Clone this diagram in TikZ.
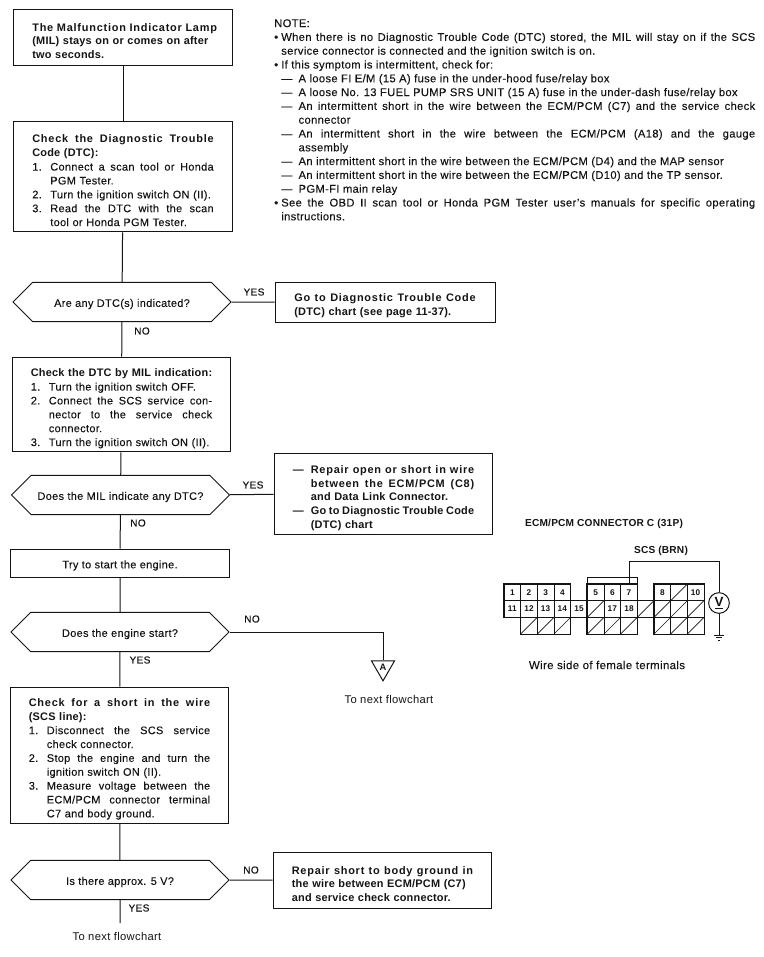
\documentclass[tikz,border=0pt]{standalone}
\usepackage{fontspec}
\setmainfont{Liberation Sans}[LetterSpace=3, FakeBold=0.15, BoldFeatures={LetterSpace=2, FakeBold=0}]
\newfontfamily\wideface{Liberation Sans}[LetterSpace=7, BoldFeatures={LetterSpace=7}]
\newfontfamily\thinface{Liberation Sans}[LetterSpace=3]
\usetikzlibrary{shapes.misc, shapes.geometric}
\definecolor{ink}{gray}{0.08}
\newcommand{\fitbox}[2]{\makebox[#1][s]{\spaceskip=0pt\xspaceskip=0pt\relax #2}}
\newcommand{\widefont}{\wideface\bfseries}
\newcommand{\fullln}[1]{\fitbox{136pt}{#1}}
\newcommand{\stepln}[2]{\makebox[13.5pt][l]{#1}\fitbox{122.5pt}{#2}}
\newcommand{\stepst}[2]{\mbox{\makebox[13.5pt][l]{#1}#2}}
\newcommand{\dotln}[1]{\makebox[5.25pt][l]{•}\fitbox{355.5pt}{#1}}
\newcommand{\dotst}[1]{\makebox[5.25pt][l]{•}#1}
\newcommand{\dashln}[1]{\hspace*{5.25pt}\makebox[13pt][l]{—}\fitbox{342.5pt}{#1}}
\newcommand{\dashst}[1]{\hspace*{5.25pt}\makebox[13pt][l]{—}#1}
\tikzset{
    x=0.75pt, y=-0.75pt,
    every node/.style={text=ink},
    wire/.style={draw=ink, line width=0.75pt},
    flowbox/.style={shape=rectangle, wire, minimum width=164pt, inner sep=0pt, align=center, text height=9pt, text depth=1pt, font=\fontsize{8.2}{10.4}\selectfont},
    stepbox/.style={shape=rectangle, wire, minimum width=164pt, inner sep=0pt, text width=136pt, align=left, font=\fontsize{8.2}{10.4}\selectfont, execute at begin node={\rule{0pt}{12pt}}},
    boldbox/.style={stepbox, font=\bfseries\fontsize{8.2}{10.4}\selectfont},
    query/.style={shape=chamfered rectangle, wire, chamfered rectangle xsep=16.5pt, chamfered rectangle ysep=10pt, minimum width=163.5pt, minimum height=20pt, inner sep=0pt, text height=8.3pt, text depth=1pt, font=\fontsize{8.2}{10.4}\selectfont},
    answer/.style={inner sep=0pt, font=\fontsize{7.6}{10}\selectfont},
    caption/.style={inner sep=0pt, font=\thinface\fontsize{8.4}{10}\selectfont},
    pincell/.style={shape=rectangle, draw=ink, line width=0.5pt, minimum width=12.5pt, minimum height=12.5pt, inner sep=0pt, font=\bfseries\fontsize{6.2}{7}\selectfont},
    pinslash/.style={pincell, path picture={\draw[ink, line width=0.5pt] (path picture bounding box.south west) -- (path picture bounding box.north east);}},
    pinedge/.style={draw=ink, line width=0.75pt}
}
\begin{document}
\begin{tikzpicture}
    \useasboundingbox (0,0) rectangle (764,957);

    \node[boldbox, minimum height=42pt] (B1) at (123,37) {{\widefont\mbox{The Malfunction Indicator Lamp}}\\\mbox{(MIL) stays on or comes on after}\\two seconds.};
    \node[stepbox, minimum height=83pt] (B2) at (123,176.5) {{\widefont\fullln{Check the Diagnostic Trouble}}\\\textbf{Code (DTC):}\\\stepln{1.}{Connect a scan tool or Honda}\\\stepst{}{PGM Tester.}\\\stepst{2.}{Turn the ignition switch ON (II).}\\\stepln{3.}{Read the DTC with the scan}\\\stepst{}{tool or Honda PGM Tester.}};
    \node[query] (D1) at (122,302) {Are any DTC(s) indicated?};
    \node[boldbox, minimum width=165pt, minimum height=30pt] (B3) at (385,302) {{\widefont\fullln{Go to Diagnostic Trouble Code}}\\\mbox{(DTC) chart (see page 11-37).}};
    \node[stepbox, minimum height=71pt] (B4) at (121.5,404.5) {\textbf{\fullln{Check the DTC by MIL indication:}}\\\stepst{1.}{Turn the ignition switch OFF.}\\\stepln{2.}{Connect the SCS service con-}\\\stepln{}{nector to the service check}\\\stepst{}{connector.}\\\stepst{3.}{Turn the ignition switch ON (II).}};
    \node[query] (D2) at (120.5,495) {Does the MIL indicate any DTC?};
    \node[boldbox, minimum height=61pt] (B5) at (383.5,494) {\stepln{—}{\widefont Repair open or short in wire}\\\stepln{}{\widefont between the ECM/PCM (C8)}\\\stepst{}{and Data Link Connector.}\\\stepln{—}{Go to Diagnostic Trouble Code}\\\stepst{}{(DTC) chart}};
    \node[flowbox, minimum height=21pt] (B6) at (120,563) {Try to start the engine.};
    \node[query] (D3) at (120,632) {Does the engine start?};
    \node[stepbox, minimum height=102pt] (B7) at (119.5,755) {{\widefont\fullln{Check for a short in the wire}}\\\textbf{(SCS line):}\\\stepln{1.}{Disconnect the SCS service}\\\stepst{}{check connector.}\\\stepln{2.}{Stop the engine and turn the}\\\stepst{}{ignition switch ON (II).}\\\stepln{3.}{Measure voltage between the}\\\stepln{}{ECM/PCM connector terminal}\\\stepst{}{C7 and body ground.}};
    \node[query] (D4) at (120,880) {Is there approx. 5 V?};
    \node[boldbox, minimum height=42pt] (B8) at (382.5,880) {{\widefont\fullln{Repair short to body ground in}}\\\mbox{the wire between ECM/PCM (C7)}\\\mbox{and service check connector.}};
    \node[shape=regular polygon, regular polygon sides=3, shape border rotate=180, wire, minimum size=20pt, inner sep=0pt, font=\bfseries\fontsize{7}{8}\selectfont] (T) at (383,667.5) {A};

    \coordinate (E1) at (120,923);

    \draw[wire] (B1) -- (B2);
    \draw[wire] (B2) -- (D1);
    \draw[wire] (D1) -- (B3);
    \draw[wire] (D1) -- (B4);
    \draw[wire] (B4) -- (D2);
    \draw[wire] (D2) -- (B5);
    \draw[wire] (D2) -- (B6);
    \draw[wire] (B6) -- (D3);
    \draw[wire] (D3) -| (T.north);
    \draw[wire] (D3) -- (B7);
    \draw[wire] (B7) -- (D4);
    \draw[wire] (D4) -- (B8);
    \draw[wire] (D4) -- (E1);

    \node[answer] (yes1) at (254,292) {YES};
    \node[answer] (no1) at (142,331) {NO};
    \node[answer] (yes2) at (253,485) {YES};
    \node[answer] (no2) at (138,523) {NO};
    \node[answer] (no3) at (252,619) {NO};
    \node[answer] (yes3) at (140,660) {YES};
    \node[answer] (no4) at (251,870) {NO};
    \node[answer] (yes4) at (139,908) {YES};
    \node[caption] (next1) at (389,699) {To next flowchart};
    \node[caption] (next2) at (117,936) {To next flowchart};

    \node[anchor=north west, inner sep=0pt, align=left, font=\fontsize{8.4}{10.35}\selectfont] (N) at (274,19) {NOTE:\\
        \dotln{When there is no Diagnostic Trouble Code (DTC) stored, the MIL will stay on if the SCS}\\
        \hspace*{5.25pt}service connector is connected and the ignition switch is on.\\
        \dotst{If this symptom is intermittent, check for:}\\
        \dashst{A loose FI E/M (15 A) fuse in the under-hood fuse/relay box}\\
        \dashst{A loose No. 13 FUEL PUMP SRS UNIT (15 A) fuse in the under-dash fuse/relay box}\\
        \dashln{An intermittent short in the wire between the ECM/PCM (C7) and the service check}\\
        \hspace*{18.25pt}connector\\
        \dashln{An intermittent short in the wire between the ECM/PCM (A18) and the gauge}\\
        \hspace*{18.25pt}assembly\\
        \dashst{An intermittent short in the wire between the ECM/PCM (D4) and the MAP sensor}\\
        \dashst{An intermittent short in the wire between the ECM/PCM (D10) and the TP sensor.}\\
        \dashst{PGM-FI main relay}\\
        \dotln{See the OBD II scan tool or Honda PGM Tester user's manuals for specific operating}\\
        \hspace*{5.25pt}instructions.};

    \node[inner sep=0pt, font=\bfseries\fontsize{7.6}{10}\selectfont] (P) at (604,524) {ECM/PCM CONNECTOR C (31P)};
    \node[inner sep=0pt, font=\bfseries\fontsize{7.6}{10}\selectfont] (S) at (661,551) {SCS (BRN)};
    \node[inner sep=0pt, font=\fontsize{8.6}{10}\selectfont] (W) at (607,665) {Wire side of female terminals};

    \foreach \cx/\cy/\lab in {512.3/592.3/1, 529/592.3/2, 545.6/592.3/3, 562.3/592.3/4, 595.6/592.3/5, 612.3/592.3/6, 629/592.3/7, 662.3/592.3/8, 695.6/592.3/10, 512.3/609/11, 529/609/12, 545.6/609/13, 562.3/609/14, 579/609/15, 612.3/609/17, 629/609/18}
        \node[pincell] (c\lab) at (\cx,\cy) {\lab};
    \foreach \cx/\cy/\lab in {679/592.3/a, 595.6/609/b, 645.6/609/c, 662.3/609/d, 679/609/e, 695.6/609/f, 529/625.7/g, 545.6/625.7/h, 562.3/625.7/i, 595.6/625.7/j, 612.3/625.7/k, 629/625.7/l, 662.3/625.7/m, 679/625.7/n, 695.6/625.7/o}
        \node[pinslash] (c\lab) at (\cx,\cy) {};

    \node[shape=rectangle, pinedge, minimum width=37.6pt, minimum height=5.2pt, inner sep=0pt] (H) at (612.3,580.5) {};
    \draw[pinedge] (c1.north west) rectangle (c14.south east);
    \draw[pinedge] (cg.north west) rectangle (ci.south east);
    \draw[pinedge] (c5.north west) rectangle (cl.south east);
    \draw[pinedge] (c8.north west) rectangle (co.south east);
    \draw[pinedge] (c15.north west) -- (c15.north east);
    \draw[pinedge] (c15.south west) -- (c15.south east);
    \draw[pinedge] (cc.north west) -- (cc.north east);
    \draw[pinedge] (cc.south west) -- (cc.south east);

    \node[shape=circle, wire, minimum size=15.5pt, inner sep=0pt, font=\bfseries\fontsize{10}{11}\selectfont] (V) at (719,603) {\underline{V}};
    \coordinate (K) at (719,561);
    \coordinate (G) at (719,635);
    \draw[wire] (c7.north) |- (K) -- (V);
    \draw[wire] (V) -- (G);
    \draw[wire] ([xshift=-3.8pt]G) -- ([xshift=3.8pt]G);
    \draw[wire] ([xshift=-2.4pt,yshift=-2.2pt]G) -- ([xshift=2.4pt,yshift=-2.2pt]G);
    \draw[wire] ([xshift=-1pt,yshift=-4.4pt]G) -- ([xshift=1pt,yshift=-4.4pt]G);
\end{tikzpicture}
\end{document}
